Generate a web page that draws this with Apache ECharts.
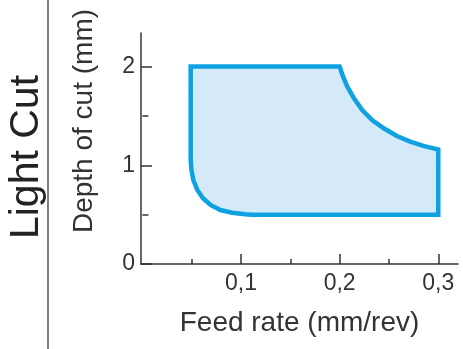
<!DOCTYPE html>
<html>
<head>
<meta charset="utf-8">
<script src="https://cdn.jsdelivr.net/npm/echarts@6/dist/echarts.min.js"></script>
<style>
    html, body { margin: 0; padding: 0; background: #fff; }
    #chart { width: 463px; height: 349px; }
</style>
</head>
<body>
<div id="chart"></div>
<script>
    // outline of the working zone, clockwise from the top-left corner
    var feedRate = [0.049, 0.2, 0.2028, 0.2078, 0.2145, 0.2229, 0.2329, 0.2447, 0.2581, 0.2715, 0.2849, 0.3, 0.3,
                    0.111, 0.1042, 0.0909, 0.0791, 0.0691, 0.0614, 0.0557, 0.0517, 0.0497, 0.049];
    var depth    = [2.0, 2.0, 1.915, 1.796, 1.679, 1.56, 1.459, 1.375, 1.297, 1.239, 1.196, 1.16, 0.5,
                    0.5, 0.505, 0.52, 0.547, 0.598, 0.666, 0.75, 0.851, 0.952, 1.05];

    var xMajorTicks = [0.1, 0.2, 0.3];
    var xMinorTicks = [0.05, 0.15, 0.25];
    var yMajorTicks = [0, 1, 2];
    var yMinorTicks = [0.5, 1.5];

    var outline = feedRate.map(function (x, i) { return [x, depth[i]]; });

    var font = 'Liberation Sans, Arial, sans-serif';
    var chart = echarts.init(document.getElementById('chart'));

    var option = {
        animation: false,
        grid: { left: 141, right: 5, top: 33, bottom: 85 },
        xAxis: [
            {
                type: 'value', min: -0.0014, max: 0.32,
                splitLine: { show: false },
                axisLine: { onZero: false, lineStyle: { color: '#333', width: 1.5 } },
                axisTick: { inside: true, length: 10, customValues: xMajorTicks, lineStyle: { color: '#333', width: 1.5 } },
                axisLabel: {
                    customValues: xMajorTicks, margin: 8, fontSize: 23, color: '#333', fontFamily: font,
                    formatter: function (v) { return String(v).replace('.', ','); }
                },
                name: 'Feed rate (mm/rev)', nameLocation: 'middle', nameGap: 45,
                nameTextStyle: { fontSize: 28, color: '#333', fontFamily: font }
            },
            {
                type: 'value', min: -0.0014, max: 0.32, position: 'bottom',
                splitLine: { show: false },
                axisLine: { show: false },
                axisTick: { inside: true, length: 5, customValues: xMinorTicks, lineStyle: { color: '#333', width: 1.5 } },
                axisLabel: { show: false }
            }
        ],
        yAxis: [
            {
                type: 'value', min: 0, max: 2.34,
                splitLine: { show: false },
                axisLine: { show: true, onZero: false, lineStyle: { color: '#333', width: 1.5 } },
                axisTick: { show: true, inside: true, length: 11, customValues: yMajorTicks, lineStyle: { color: '#333', width: 1.5 } },
                axisLabel: { customValues: yMajorTicks, margin: 6, fontSize: 23, color: '#333', fontFamily: font }
            },
            {
                type: 'value', min: 0, max: 2.34, position: 'left',
                splitLine: { show: false },
                axisLine: { show: false },
                axisTick: { show: true, inside: true, length: 6, customValues: yMinorTicks, lineStyle: { color: '#333', width: 1.5 } },
                axisLabel: { show: false }
            }
        ],
        graphic: [
            {
                type: 'line', silent: true,
                shape: { x1: 48, y1: 0, x2: 48, y2: 349 },
                style: { stroke: '#555', lineWidth: 1.5 }
            },
            {
                type: 'text', x: 27, y: 157, rotation: Math.PI / 2,
                style: { text: 'Light Cut', fontSize: 41, fontFamily: font, fill: '#222',
                         textAlign: 'center', textVerticalAlign: 'middle' }
            },
            {
                type: 'text', x: 84, y: 121, rotation: Math.PI / 2,
                style: { text: 'Depth of cut (mm)', fontSize: 28, fontFamily: font, fill: '#333',
                         textAlign: 'center', textVerticalAlign: 'middle' }
            }
        ],
        series: [
            {
                type: 'custom',
                xAxisIndex: 0, yAxisIndex: 0,
                data: outline,
                renderItem: function (params, api) {
                    if (params.dataIndex !== 0) return null;
                    var pts = outline.map(function (p) { return api.coord(p); });
                    return {
                        type: 'polygon',
                        shape: { points: pts },
                        style: { fill: '#d5eaf8', stroke: '#0ea2e2', lineWidth: 4.5, lineJoin: 'miter' }
                    };
                }
            }
        ]
    };
    chart.setOption(option);
</script>
</body>
</html>
